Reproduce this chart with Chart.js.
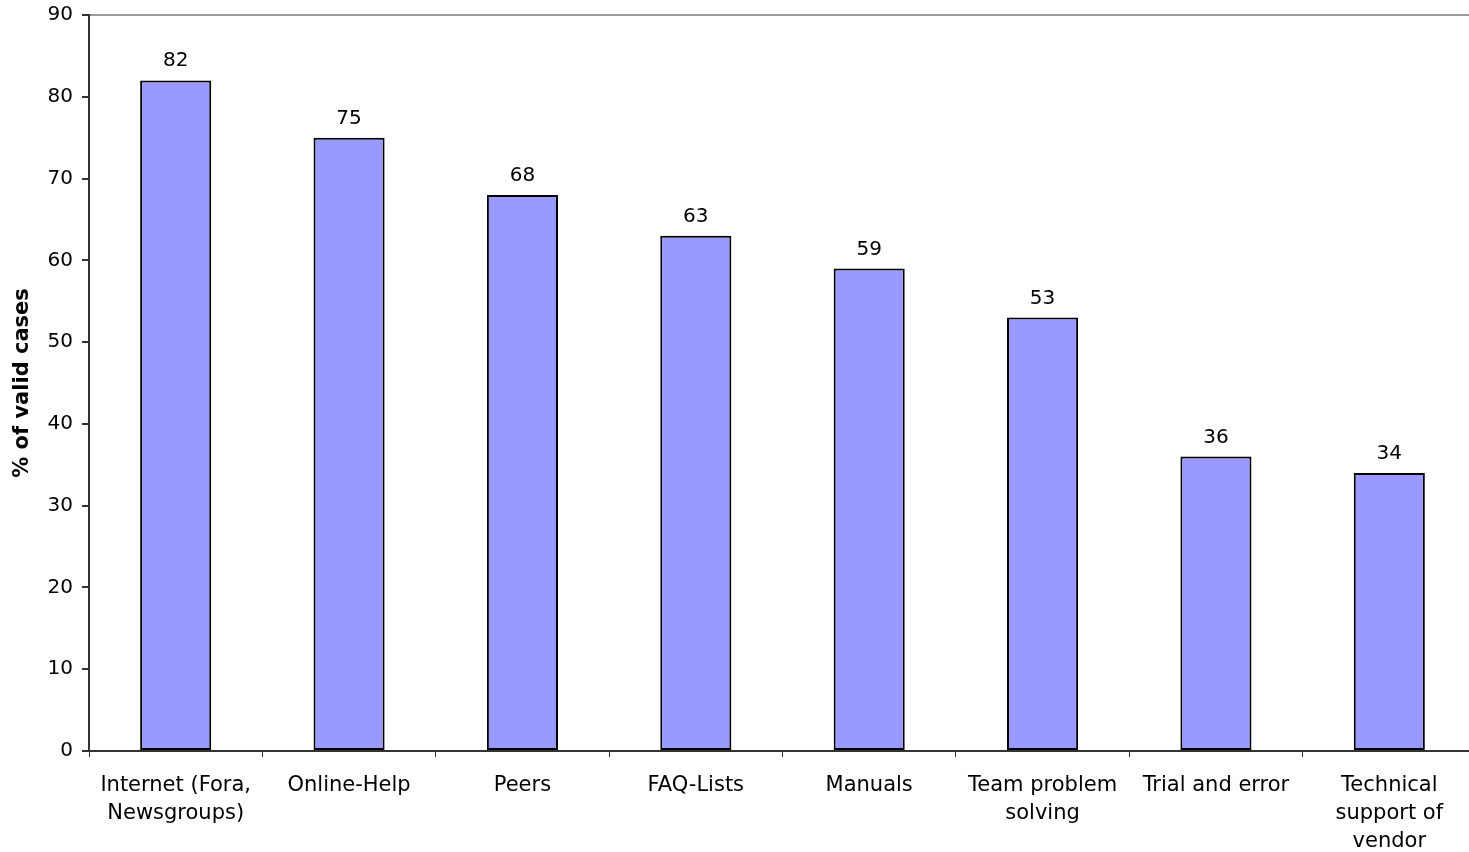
<!DOCTYPE html>
<html>
<head>
<meta charset="utf-8">
<script src="https://cdn.jsdelivr.net/npm/chart.js@4"></script>
<style>
  html, body { margin: 0; padding: 0; background: #fff; overflow: hidden; }
  /* plot area runs slightly past the right edge of the window, as in the original */
  #wrap { width: 1476px; height: 852px; position: relative; }
</style>
</head>
<body>
<div id="wrap"><canvas id="chart"></canvas></div>
<script>
    "use strict";

    var categories = [
        ["Internet (Fora,", "Newsgroups)"],
        "Online-Help",
        "Peers",
        "FAQ-Lists",
        "Manuals",
        ["Team problem", "solving"],
        "Trial and error",
        ["Technical", "support of", "vendor"]
    ];
    var values = [82, 75, 68, 63, 59, 53, 36, 34];
    var yTicks = [0, 10, 20, 30, 40, 50, 60, 70, 80, 90];
    var yTitle = "% of valid cases";

    var fontFamily = "'DejaVu Sans', Verdana, sans-serif";

    // value labels above the bars
    var barLabels = {
        id: "barLabels",
        afterDatasetsDraw: function (chart) {
            var ctx = chart.ctx;
            var meta = chart.getDatasetMeta(0);
            ctx.save();
            ctx.font = "20px " + fontFamily;
            ctx.fillStyle = "#000";
            ctx.textAlign = "center";
            ctx.textBaseline = "alphabetic";
            meta.data.forEach(function (bar, i) {
                ctx.fillText(String(values[i]), bar.x, bar.y - 14);
            });
            ctx.restore();
        }
    };

    var ctx = document.getElementById("chart").getContext("2d");
    var myChart = new Chart(ctx, {
        type: "bar",
        data: {
            labels: categories,
            datasets: [{
                data: values,
                backgroundColor: "#9999FF",
                borderColor: "#000",
                borderWidth: 2,
                borderSkipped: false,
                barPercentage: 0.41,
                categoryPercentage: 1
            }]
        },
        options: {
            responsive: true,
            maintainAspectRatio: false,
            animation: false,
            layout: { padding: { top: 15, right: 0, left: 0, bottom: 0 } },
            plugins: {
                legend: { display: false },
                tooltip: { enabled: false }
            },
            scales: {
                x: {
                    grid: {
                        offset: true,
                        drawOnChartArea: false,
                        drawTicks: true,
                        tickLength: 6,
                        color: "#333"
                    },
                    border: { color: "#333", width: 2 },
                    ticks: {
                        color: "#000",
                        maxRotation: 0,
                        autoSkip: false,
                        padding: 15,
                        font: { family: fontFamily, size: 21, lineHeight: 1.33 }
                    },
                    afterFit: function (scale) {
                        scale.height = 101;
                        scale.paddingLeft = 0;
                        scale.paddingRight = 0;
                    }
                },
                y: {
                    min: 0,
                    max: 90,
                    afterBuildTicks: function (scale) {
                        scale.ticks = yTicks.map(function (v) { return { value: v }; });
                    },
                    grid: {
                        drawOnChartArea: true,
                        drawTicks: true,
                        tickLength: 7,
                        color: function (c) {
                            return c.tick && c.tick.value === 90 ? "#9a9a9a" : "rgba(0,0,0,0)";
                        },
                        tickColor: "#333",
                        lineWidth: 2
                    },
                    border: { color: "#333", width: 2 },
                    ticks: {
                        color: "#000",
                        padding: 9,
                        font: { family: fontFamily, size: 20 }
                    },
                    title: {
                        display: true,
                        text: yTitle,
                        color: "#000",
                        padding: { top: 10, bottom: 0 },
                        font: { family: fontFamily, size: 21, weight: "bold" }
                    },
                    afterFit: function (scale) {
                        scale.width = 89;
                        scale.paddingTop = 0;
                        scale.paddingBottom = 0;
                    }
                }
            }
        },
        plugins: [barLabels]
    });
</script>
</body>
</html>
